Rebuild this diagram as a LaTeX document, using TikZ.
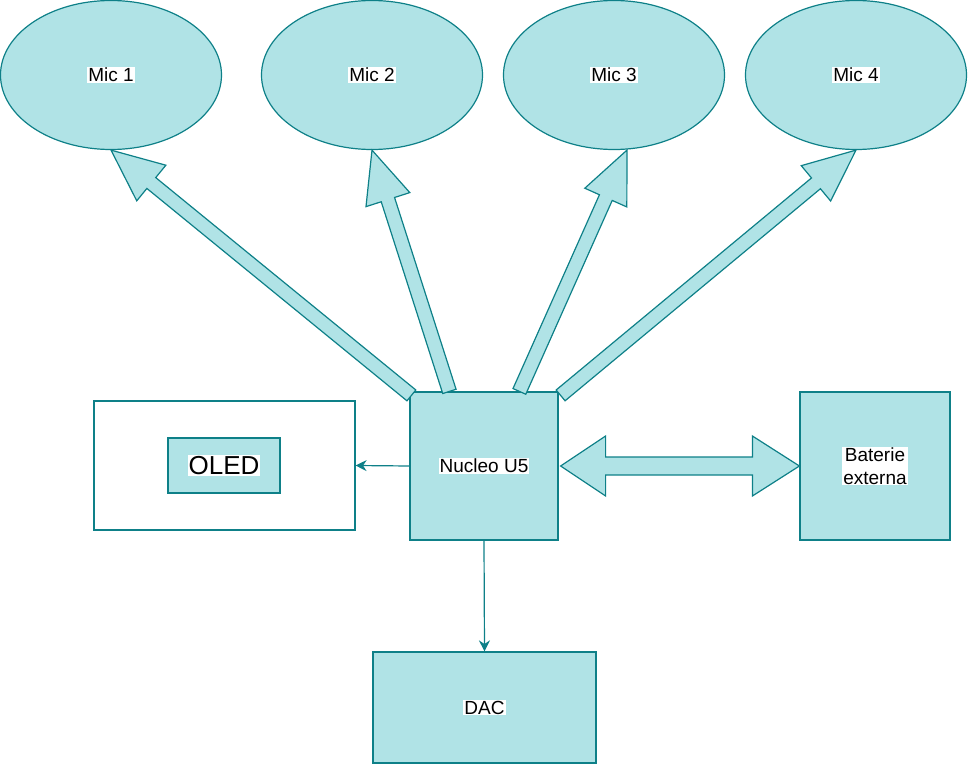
\documentclass[tikz,border=0pt]{standalone}
\usepackage{fontspec}
\setmainfont{Liberation Sans}
\usetikzlibrary{calc,arrows.meta,shapes.geometric}
\definecolor{tf}{HTML}{B0E3E6}
\definecolor{ts}{HTML}{0E8088}
\begin{document}
\begin{tikzpicture}[x=1pt,y=-1pt,
  box/.style={draw=ts,fill=tf,line width=1.2pt,inner sep=0pt},
  lab/.style={fill=white,inner sep=1pt,font=\fontsize{19}{22}\selectfont},
  fat/.style={draw=ts,fill=tf,line width=1.2pt,line join=miter},
  thin/.style={draw=ts,line width=1.2pt,-{Stealth[length=11pt,width=11pt]}}]
\useasboundingbox (0,0) rectangle (970,765);
\foreach \n/\x in {1/111,2/372,3/614,4/856}{
  \node[box,ellipse,minimum width=221,minimum height=149] (m\n) at (\x,75) {};
  \node[lab] at (m\n) {Mic \n};
}
\node[box,minimum width=148,minimum height=148] (nuc) at (484,466) {};
\node[lab] at (nuc) {Nucleo U5};
\node[draw=ts,line width=1.2pt,fill=white,minimum width=261,minimum height=129] (oledbox) at (224.5,465.5) {};
\node[box,minimum width=112,minimum height=55] (oled) at (224,465.5) {};
\node[lab,font=\fontsize{26}{30}\selectfont] at (oled) {OLED};
\node[box,minimum width=150,minimum height=148] (bat) at (875,466) {};
\node[lab,align=center,font=\fontsize{19}{23}\selectfont] at (bat) {Baterie\\externa};
\node[box,minimum width=223,minimum height=111] (dac) at (484.5,707.5) {};
\node[lab] at (dac) {DAC};
% fat arrows
\coordinate (s1) at ($(nuc.north west)+(2,4)$);
\coordinate (s2) at ($(nuc.north west)+(40,0)$);
\coordinate (s3) at ($(nuc.north west)+(110,0)$);
\coordinate (s4) at ($(nuc.north east)+(2,4)$);
\coordinate (e3) at ($(m3.south)+(13,0)$);
\foreach \a/\b in {s1/m1.south,s2/m2.south,s3/e3,s4/m4.south}{
\draw[fat] let \p1=(\a), \p2=(\b), \n1={atan2(\y2-\y1,\x2-\x1)}, \n2={veclen(\x2-\x1,\y2-\y1)} in
  [shift={(\x1,\y1)}, rotate=\n1] (0,-7) -- (\n2-52,-7) -- (\n2-52,-23) -- (\n2,0) -- (\n2-52,23) -- (\n2-52,7) -- (0,7) -- cycle;
}
% double arrow
\draw[fat] let \p1=(nuc.east), \p2=(bat.west) in
  (\x1+2,\y1) -- (\x1+47,\y1-30) -- (\x1+47,\y1-9) -- (\x2-47,\y1-9) -- (\x2-47,\y1-30) -- (\x2,\y1)
  -- (\x2-47,\y1+30) -- (\x2-47,\y1+9) -- (\x1+47,\y1+9) -- (\x1+47,\y1+30) -- cycle;
\draw[thin] (nuc.west) -- (oledbox.east);
\draw[thin] (nuc.south) -- (dac.north);
\end{tikzpicture}
\end{document}
